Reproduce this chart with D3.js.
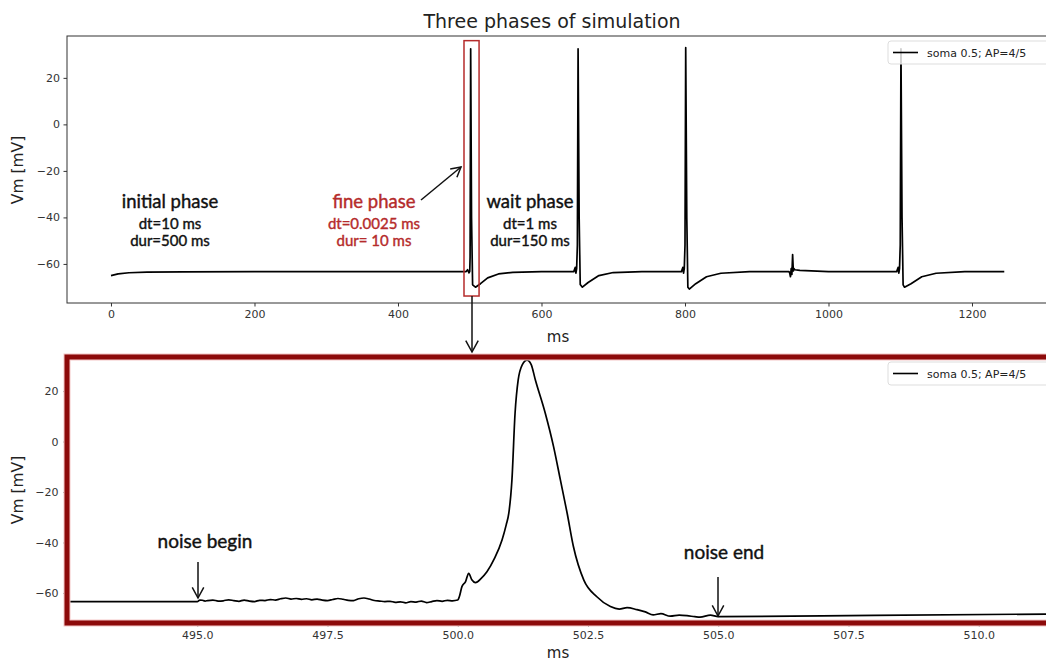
<!DOCTYPE html>
<html>
<head>
<meta charset="utf-8">
<script src="https://cdn.jsdelivr.net/npm/d3@7"></script>
<style>
  body { margin: 0; background: #fff; }
  svg { display: block; }
  .tick text { font-family: "DejaVu Sans", sans-serif; font-size: 11px; fill: #333; }
  .note { font-family: Lato, "Open Sans", sans-serif; stroke-width: 0.4px; }
</style>
</head>
<body>
<div id="chart"></div>
<script>
// ---- data ----
// whole run (ms, mV)
const fullTime = [0, 10, 25, 50, 100, 200, 495, 497, 499, 500, 500.5, 501.3, 502.5, 504, 508, 515, 525, 540, 560, 600,
  645, 647, 648, 649, 650, 651, 652.5, 654, 657, 665, 680, 700, 740,
  795, 797, 798, 799, 800, 801, 802.5, 804, 806, 815, 830, 850, 890,
  945, 946, 947, 948, 949, 950, 951, 952, 953, 960, 1000,
  1095, 1097, 1098, 1099, 1100, 1101, 1102.5, 1104, 1106, 1115, 1130, 1150, 1190, 1245];
const fullVm = [-65, -64.3, -63.8, -63.5, -63.4, -63.3, -63.3, -62.5, -63.8, -63.2, -57, 32.5, -40, -69, -70, -68.5, -66, -64.3, -63.6, -63.3,
  -63.3, -61.5, -64, -62, -52, 32.5, -40, -68.8, -70, -68, -65, -63.7, -63.3,
  -63.3, -61.5, -64, -62, -52, 33, -40, -70, -70.8, -68.5, -65.5, -64, -63.3,
  -63.3, -64, -65.5, -62, -64.5, -56, -63, -62, -62.5, -62.8, -63.3,
  -63.3, -61.5, -64, -62, -52, 32.5, -40, -69, -70, -68.5, -65.5, -64, -63.3, -63.3];

// fine phase close-up (ms, mV)
const fineTime = [492.5, 495.0, 495.05, 495.1, 495.15, 495.2, 495.3, 495.4, 495.5, 495.6, 495.7, 495.8, 495.9,
  496.0, 496.1, 496.2, 496.3, 496.4, 496.5, 496.6, 496.7, 496.8, 496.9,
  497.0, 497.1, 497.2, 497.3, 497.4, 497.5, 497.6, 497.7, 497.8, 497.9,
  498.0, 498.1, 498.2, 498.3, 498.4, 498.5, 498.6, 498.7, 498.8, 498.9,
  499.0, 499.1, 499.2, 499.3, 499.4, 499.5, 499.6, 499.7, 499.8, 499.9, 500.0,
  500.03, 500.08, 500.15, 500.21, 500.27, 500.34, 500.45, 500.56, 500.7, 500.85, 500.93, 500.98,
  501.04, 501.1, 501.16, 501.24, 501.33, 501.41, 501.49, 501.68, 501.84, 501.97, 502.1, 502.22, 502.42,
  502.67, 502.93, 503.1, 503.25, 503.44, 503.6, 503.75, 503.9, 504.08, 504.25, 504.4, 504.55, 504.65,
  504.85, 505.0, 508.0, 511.6];
const fineVm = [-63.4, -63.4, -62.8, -62.9, -63.2, -63.0, -62.8, -63.2, -63.1, -62.7, -63.0, -63.3, -62.8,
  -63.2, -63.4, -62.9, -63.0, -62.6, -62.8, -62.3, -62.0, -62.4, -62.2,
  -62.5, -62.3, -62.7, -62.4, -62.8, -63.0, -62.6, -62.2, -62.5, -62.9,
  -63.0, -62.3, -62.0, -62.4, -63.0, -63.2, -63.4, -63.3, -63.7, -63.5,
  -63.9, -63.4, -63.6, -63.2, -63.8, -63.4, -63.0, -63.3, -62.9, -63.1, -62.8,
  -61.5, -57.5, -55.5, -52.2, -54.8, -55.9, -54.2, -51.6, -46.5, -39, -33, -28.4,
  -15.2, 11.2, 24.4, 30.5, 32.3, 30.5, 24.4, 11.2, -2.1, -15.2, -28.4, -41.6, -54.9,
  -61.5, -65.4, -66.4, -65.8, -66.6, -67.5, -68.7, -68.2, -69.2, -68.8, -69.0, -69.4, -69.6,
  -68.8, -69.4, -68.9, -68.3];

const legendLabel = "soma 0.5; AP=4/5";
const topXTicks = [0, 200, 400, 600, 800, 1000, 1200];
const topYTicks = [-60, -40, -20, 0, 20];
const botXTicks = [495, 497.5, 500, 502.5, 505, 507.5, 510];
const botYTicks = [-60, -40, -20, 0, 20];

const width = 1046, height = 661;
const svg = d3.select("#chart").append("svg")
  .attr("width", width).attr("height", height);

const lineGen = (x, y) => d3.line().x(d => x(d[0])).y(d => y(d[1]));

// ---- top panel ----
const x1 = d3.scaleLinear().domain([-61.3, 1312.9]).range([67, 1053]);
const y1 = d3.scaleLinear().domain([-76.8, 38]).range([303, 36]);

svg.append("clipPath").attr("id", "clip1")
  .append("rect").attr("x", 67).attr("y", 36).attr("width", 986).attr("height", 267);

svg.append("text")
  .attr("x", 552).attr("y", 28).attr("text-anchor", "middle")
  .style("font-family", "DejaVu Sans, sans-serif").style("font-size", "19px").attr("fill", "#222")
  .text("Three phases of simulation");

svg.append("path")
  .datum(d3.zip(fullTime, fullVm))
  .attr("clip-path", "url(#clip1)")
  .attr("fill", "none").attr("stroke", "#000").attr("stroke-width", 1.7)
  .attr("stroke-linejoin", "round")
  .attr("d", lineGen(x1, y1));

svg.append("rect")
  .attr("x", 67).attr("y", 36).attr("width", 986).attr("height", 267)
  .attr("fill", "none").attr("stroke", "#333").attr("stroke-width", 1);

svg.append("g").attr("transform", "translate(0,303)")
  .call(d3.axisBottom(x1).tickValues(topXTicks).tickFormat(d3.format("d")).tickSize(3.5).tickPadding(3.5))
  .call(g => g.select(".domain").remove())
  .call(g => g.selectAll("line").attr("stroke", "#333"));

svg.append("g").attr("transform", "translate(67,0)")
  .call(d3.axisLeft(y1).tickValues(topYTicks).tickFormat(d3.format("d")).tickSize(3.5).tickPadding(3.5))
  .call(g => g.select(".domain").remove())
  .call(g => g.selectAll("line").attr("stroke", "#333"));

svg.append("text").attr("x", 558).attr("y", 342).attr("text-anchor", "middle")
  .style("font-family", "DejaVu Sans, sans-serif").style("font-size", "15px").attr("fill", "#222").text("ms");
svg.append("text").attr("transform", "translate(23,170) rotate(-90)").attr("text-anchor", "middle")
  .style("font-family", "DejaVu Sans, sans-serif").style("font-size", "15.5px").attr("fill", "#222").text("Vm [mV]");

// legend helper
function legend(yTop) {
  const g = svg.append("g");
  g.append("rect").attr("x", 888).attr("y", yTop).attr("width", 170).attr("height", 23).attr("rx", 3)
    .attr("fill", "#fff").attr("fill-opacity", 0.8).attr("stroke", "#ddd");
  g.append("line").attr("x1", 893).attr("x2", 918).attr("y1", yTop + 11.5).attr("y2", yTop + 11.5)
    .attr("stroke", "#000").attr("stroke-width", 1.6);
  g.append("text").attr("x", 927).attr("y", yTop + 15.5)
    .style("font-family", "DejaVu Sans, sans-serif").style("font-size", "11px").attr("fill", "#222")
    .text(legendLabel);
}
legend(41);

// phase annotations
function note(cx, cy, lines, color) {
  const t = svg.append("text").attr("class", "note").attr("text-anchor", "middle")
    .attr("fill", color).attr("stroke", color);
  lines.forEach((s, i) => {
    t.append("tspan").attr("x", cx).attr("y", cy + (i === 0 ? 0 : 4 + i * 17))
      .style("font-size", i === 0 ? "18.5px" : "15px").text(s);
  });
}
note(170, 208, ["initial phase", "dt=10 ms", "dur=500 ms"], "#111");
note(374, 208, ["fine phase", "dt=0.0025 ms", "dur= 10 ms"], "#b52b2b");
note(530, 208, ["wait phase", "dt=1 ms", "dur=150 ms"], "#111");

function arrow(xa, ya, xb, yb, head) {
  const ang = Math.atan2(yb - ya, xb - xa);
  const p = [[xb - head * Math.cos(ang - 0.5), yb - head * Math.sin(ang - 0.5)], [xb, yb],
             [xb - head * Math.cos(ang + 0.5), yb - head * Math.sin(ang + 0.5)]];
  svg.append("line").attr("x1", xa).attr("y1", ya).attr("x2", xb).attr("y2", yb)
    .attr("stroke", "#111").attr("stroke-width", 1.5);
  svg.append("path").attr("d", d3.line()(p)).attr("fill", "none")
    .attr("stroke", "#111").attr("stroke-width", 1.5);
}
arrow(421, 200, 461, 167, 11);

// zoom window on fine phase
svg.append("rect")
  .attr("x", x1(492)).attr("y", y1(36)).attr("width", x1(513) - x1(492)).attr("height", y1(-73.8) - y1(36))
  .attr("fill", "none").attr("stroke", "#b52b2b").attr("stroke-width", 1.5);
arrow(472, 296, 472, 352, 13);

// ---- bottom panel ----
const x2 = d3.scaleLinear().domain([492.5, 511.6]).range([67, 67 + 19.1 * 52.1]);
const y2 = d3.scaleLinear().domain([-71.9, 33.5]).range([623, 357]);

svg.append("clipPath").attr("id", "clip2")
  .append("rect").attr("x", 67).attr("y", 357).attr("width", 1000).attr("height", 266);

svg.append("path")
  .datum(d3.zip(fineTime, fineVm))
  .attr("clip-path", "url(#clip2)")
  .attr("fill", "none").attr("stroke", "#000").attr("stroke-width", 1.7)
  .attr("stroke-linejoin", "round")
  .attr("d", lineGen(x2, y2).curve(d3.curveMonotoneX));

svg.append("g").attr("transform", "translate(0,623)")
  .call(d3.axisBottom(x2).tickValues(botXTicks).tickFormat(d3.format(".1f")).tickSize(3.5).tickPadding(5))
  .call(g => g.select(".domain").remove())
  .call(g => g.selectAll("line").attr("stroke", "#333"));

svg.append("g").attr("transform", "translate(67,0)")
  .call(d3.axisLeft(y2).tickValues(botYTicks).tickFormat(d3.format("d")).tickSize(3.5).tickPadding(5))
  .call(g => g.select(".domain").remove())
  .call(g => g.selectAll("line").attr("stroke", "#333"));

svg.append("text").attr("x", 558).attr("y", 658).attr("text-anchor", "middle")
  .style("font-family", "DejaVu Sans, sans-serif").style("font-size", "15px").attr("fill", "#222").text("ms");
svg.append("text").attr("transform", "translate(23,490) rotate(-90)").attr("text-anchor", "middle")
  .style("font-family", "DejaVu Sans, sans-serif").style("font-size", "15.5px").attr("fill", "#222").text("Vm [mV]");

// thick red frame around the close-up
svg.append("rect")
  .attr("x", 67).attr("y", 357).attr("width", 1000).attr("height", 266)
  .attr("fill", "none").attr("stroke", "#f4c6c6").attr("stroke-width", 7);
svg.append("rect")
  .attr("x", 67).attr("y", 357).attr("width", 1000).attr("height", 266)
  .attr("fill", "none").attr("stroke", "#8c0a0a").attr("stroke-width", 5);

legend(362);

svg.append("text").attr("class", "note").attr("x", 205).attr("y", 548).attr("text-anchor", "middle")
  .style("font-size", "19px").attr("fill", "#111").attr("stroke", "#111").text("noise begin");
arrow(198, 562, 198, 598, 12);
svg.append("text").attr("class", "note").attr("x", 724).attr("y", 559).attr("text-anchor", "middle")
  .style("font-size", "19px").attr("fill", "#111").attr("stroke", "#111").text("noise end");
arrow(718, 577, 718, 616, 12);
</script>
</body>
</html>
